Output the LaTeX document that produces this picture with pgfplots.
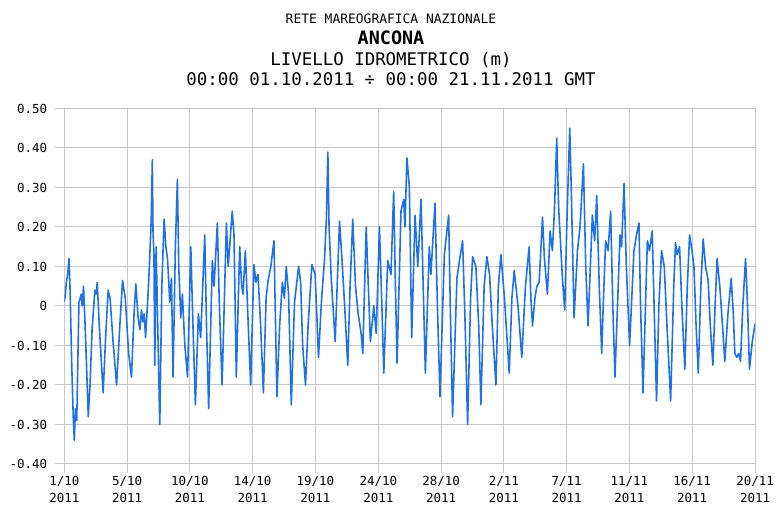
\documentclass[border=0pt]{standalone}
\usepackage{pgfplots}
\pgfplotsset{compat=1.18}
\usepackage{fontspec}
\setmainfont{DejaVu Sans}
\newfontfamily\mono{DejaVu Sans Mono}
\definecolor{lineblue}{RGB}{30,114,230}
\definecolor{gridgray}{RGB}{200,200,200}
\begin{document}
\begin{tikzpicture}[x=1bp,y=1bp]
\path[use as bounding box] (0,0) rectangle (775,506);
\node[anchor=base,inner sep=0pt,font=\mono\fontsize{13}{13}\selectfont] at (391,482) {RETE MAREOGRAFICA NAZIONALE};
\node[anchor=base,inner sep=0pt,font=\mono\bfseries\fontsize{18.5}{18.5}\selectfont] at (391,461) {ANCONA};
\node[anchor=base,inner sep=0pt,font=\mono\fontsize{17.5}{17.5}\selectfont] at (391,440.5) {LIVELLO IDROMETRICO (m)};
\node[anchor=base,inner sep=0pt,font=\mono\fontsize{17.5}{17.5}\selectfont] at (391,420.5) {00:00 01.10.2011 ÷ 00:00 21.11.2011 GMT};
\begin{axis}[
  at={(64.3bp,42bp)}, anchor=south west,
  scale only axis, width=690.7bp, height=355.5bp,
  xmin=0, xmax=51, ymin=-0.4, ymax=0.5,
  xtick={0,4.6364,9.2727,13.9091,18.5455,23.1818,27.8182,32.4545,37.0909,41.7273,46.3636,51},
  xticklabels={{1/10\\2011},{5/10\\2011},{10/10\\2011},{14/10\\2011},{19/10\\2011},{24/10\\2011},{28/10\\2011},{2/11\\2011},{7/11\\2011},{11/11\\2011},{16/11\\2011},{20/11\\2011}},
  ytick={-0.4,-0.3,-0.2,-0.1,0,0.1,0.2,0.3,0.4,0.5},
  yticklabels={-0.40,-0.30,-0.20,-0.10,0,0.10,0.20,0.30,0.40,0.50},
  grid=major, grid style={gridgray, line width=1bp},
  axis line style={gridgray, line width=1bp},
  tick style={gridgray, line width=1bp},
  major tick length=9bp, tick align=outside,
  xtick pos=bottom, ytick pos=left,
  xticklabel style={font=\mono\fontsize{12.5}{17}\selectfont, align=center, inner sep=0.5bp, yshift=-2.5bp},
  yticklabel style={font=\mono\fontsize{12.5}{12.5}\selectfont, inner sep=1bp, xshift=-7bp},
]
\addplot[lineblue, line width=1.6bp, line join=round] coordinates {
(0,0.01)(0.08,0.03)(0.15,0.06)(0.25,0.08)(0.35,0.12)(0.42,0.05)(0.55,-0.15)(0.66,-0.28)(0.74,-0.34)(0.82,-0.26)(0.92,-0.29)
(1.08,0.01)(1.18,0.02)(1.25,0.03)(1.32,0.0)(1.42,0.05)(1.55,-0.06)(1.68,-0.19)(1.77,-0.28)(1.90,-0.20)(2.05,-0.06)
(2.26,0.04)(2.35,0.03)(2.43,0.06)(2.6,-0.06)(2.75,-0.15)(2.87,-0.22)(3.05,-0.08)(3.24,0.04)(3.38,0.02)
(3.6,-0.09)(3.86,-0.20)(4.1,-0.05)(4.3,0.065)(4.5,0.02)(4.75,-0.12)(4.96,-0.18)(5.15,-0.02)(5.28,0.056)
(5.45,-0.03)(5.58,-0.06)(5.7,-0.01)(5.8,-0.04)(5.9,-0.02)(6.0,-0.08)(6.2,0.04)(6.3,0.115)(6.42,0.22)
(6.5,0.37)(6.55,0.19)(6.62,0.13)(6.68,-0.15)(6.78,0.15)(6.9,-0.05)(7.05,-0.30)(7.2,0.05)(7.37,0.22)
(7.5,0.15)(7.62,0.12)(7.79,0.01)(7.91,0.07)(8.03,-0.18)(8.2,0.15)(8.35,0.32)(8.45,0.10)(8.6,-0.03)
(8.72,0.03)(8.9,-0.10)(9.1,-0.18)(9.34,0.15)(9.5,-0.05)(9.68,-0.25)(9.9,-0.02)(10.07,-0.08)(10.37,0.18)
(10.5,-0.05)(10.66,-0.26)(10.93,0.115)(11.06,0.05)(11.3,0.21)(11.45,0.0)(11.65,-0.20)(11.97,0.21)
(12.1,0.10)(12.4,0.24)(12.53,0.18)(12.7,-0.18)(12.95,0.15)(13.1,0.05)(13.2,0.03)(13.37,0.14)(13.55,-0.02)
(13.76,-0.20)(14.0,0.105)(14.15,0.06)(14.3,0.08)(14.5,-0.05)(14.7,-0.22)(14.9,0.02)(15.05,0.065)
(15.25,0.10)(15.48,0.165)(15.6,-0.05)(15.7,-0.23)(15.9,-0.05)(16.1,0.06)(16.25,0.02)(16.39,0.10)
(16.56,0.03)(16.76,-0.25)(17.0,0.01)(17.3,0.10)(17.45,0.06)(17.6,-0.10)(17.81,-0.20)(18.0,-0.05)
(18.28,0.105)(18.52,0.08)(18.77,-0.13)(19.0,0.02)(19.21,0.115)(19.35,0.22)(19.46,0.39)(19.55,0.20)
(19.71,0.07)(20.0,-0.09)(20.32,0.215)(20.5,0.12)(20.7,0.0)(20.93,-0.15)(21.1,0.05)(21.30,0.22)(21.5,0.05)
(21.7,-0.02)(21.92,-0.07)(22.04,-0.12)(22.29,0.20)(22.45,0.05)(22.6,-0.09)(22.85,0.0)(23.03,-0.07)
(23.27,0.20)(23.45,0.0)(23.59,-0.17)(23.88,0.115)(24.12,0.08)(24.32,0.29)(24.45,0.05)(24.57,-0.145)
(24.86,0.24)(25.06,0.27)(25.15,0.20)(25.3,0.375)(25.48,0.30)(25.65,-0.08)(25.9,0.23)(26.1,0.10)
(26.34,0.27)(26.5,0.05)(26.66,-0.17)(26.95,0.15)(27.07,0.08)(27.37,0.26)(27.55,0.0)(27.74,-0.23)
(28.06,0.13)(28.38,0.23)(28.5,0.0)(28.67,-0.28)(28.99,0.07)(29.2,0.12)(29.41,0.165)(29.6,-0.05)
(29.78,-0.30)(30.0,0.02)(30.15,0.125)(30.39,0.10)(30.6,-0.05)(30.76,-0.25)(31.0,0.05)(31.2,0.125)
(31.4,0.08)(31.6,-0.05)(31.87,-0.20)(32.05,0.05)(32.24,0.13)(32.5,0.02)(32.85,-0.17)(33.05,0.02)
(33.22,0.09)(33.5,0.0)(33.78,-0.13)(34.05,0.05)(34.32,0.15)(34.45,0.02)(34.57,-0.05)(34.75,0.02)
(34.89,0.05)(35.06,0.06)(35.31,0.225)(35.45,0.12)(35.55,0.08)(35.67,0.03)(35.87,0.19)(36.04,0.14)
(36.2,0.25)(36.36,0.425)(36.5,0.25)(36.61,0.18)(36.78,0.07)(36.95,-0.01)(37.1,0.20)(37.32,0.45)
(37.45,0.27)(37.64,-0.03)(37.89,0.14)(38.08,0.20)(38.33,0.36)(38.5,0.10)(38.67,-0.05)(38.99,0.23)
(39.16,0.165)(39.31,0.28)(39.5,0.05)(39.68,-0.12)(39.80,0.01)(39.97,0.165)(40.15,0.14)(40.34,0.24)
(40.5,0.0)(40.66,-0.18)(41.03,0.18)(41.15,0.15)(41.33,0.31)(41.5,0.10)(41.74,-0.10)(42.06,0.14)
(42.25,0.18)(42.43,0.21)(42.55,0.0)(42.73,-0.22)(43.05,0.165)(43.2,0.14)(43.41,0.19)(43.55,0.0)
(43.73,-0.24)(43.9,0.0)(44.10,0.14)(44.3,0.10)(44.5,-0.05)(44.77,-0.24)(45.0,0.05)(45.13,0.16)
(45.25,0.13)(45.43,0.15)(45.6,0.0)(45.82,-0.16)(46.0,0.05)(46.17,0.18)(46.35,0.14)(46.49,0.10)
(46.65,-0.05)(46.81,-0.17)(47.0,0.05)(47.17,0.17)(47.35,0.10)(47.54,0.065)(47.7,-0.05)(47.89,-0.15)
(48.05,0.0)(48.20,0.12)(48.4,0.05)(48.6,-0.05)(48.77,-0.14)(49.0,-0.02)(49.24,0.07)(49.4,-0.02)
(49.51,-0.12)(49.65,-0.13)(49.8,-0.12)(49.93,-0.14)(50.1,0.0)(50.3,0.12)(50.45,0.0)(50.59,-0.16)
(50.8,-0.09)(51.0,-0.045)
};
\end{axis}
\end{tikzpicture}
\end{document}
